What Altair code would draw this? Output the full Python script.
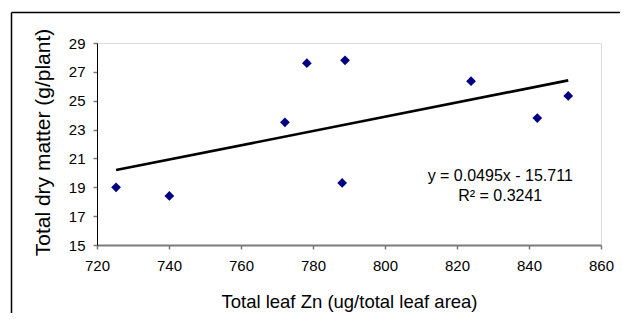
import altair as alt
import pandas as pd

# Data
leaf_zn = [725.3, 740.1, 772.2, 778.3, 788.9, 788.1, 823.9, 842.3, 850.9]
dry_matter = [19.0, 18.4, 23.5, 27.6, 27.8, 19.3, 26.35, 23.8, 25.33]

slope = 0.0495
intercept = -15.711
eq_lines = ["y = 0.0495x - 15.711", "R\u00b2 = 0.3241"]
ann_x = [832]
ann_y = [19.45]

x_ticks = [720, 740, 760, 780, 800, 820, 840, 860]
y_ticks = [15, 17, 19, 21, 23, 25, 27, 29]

FONT = "Liberation Sans"

pts = pd.DataFrame({"x": leaf_zn, "y": dry_matter})
line_df = pd.DataFrame({"x": [min(leaf_zn), max(leaf_zn)]})
ann_df = pd.DataFrame({"x": ann_x, "y": ann_y, "t": [eq_lines]})

xs = alt.Scale(domain=[720, 860], nice=False, zero=False)
ys = alt.Scale(domain=[15, 29], nice=False, zero=False)

x_axis = alt.Axis(
    values=x_ticks, title="Total leaf Zn (ug/total leaf area)", grid=False,
    domainColor="#7a7a7a", domainWidth=2, tickColor="#7a7a7a", tickWidth=1.5,
    tickSize=4, labelFont=FONT, labelFontSize=15, labelColor="black",
    labelPadding=9, labelOverlap=False, labelFlush=False,
    titleFont=FONT, titleFontSize=18.5,
    titleFontWeight="normal", titleColor="black", titleBaseline="alphabetic",
    titleY=62,
)
y_axis = alt.Axis(
    values=y_ticks, title="Total dry matter (g/plant)", grid=False,
    domainColor="black", domainWidth=1, tickColor="#7a7a7a", tickWidth=1.5,
    tickSize=4, labelFont=FONT, labelFontSize=15, labelColor="black",
    labelPadding=8, labelOverlap=False, labelFlush=False,
    titleFont=FONT, titleFontSize=21,
    titleFontWeight="normal", titleColor="black", titleAngle=270,
    titleBaseline="alphabetic", titleAlign="center", titleX=-48, titleY=99,
)

frame = pd.DataFrame({"a": [0]})
top_rule = alt.Chart(frame).mark_rule(
    color="black", strokeWidth=1.5, clip=False
).encode(x=alt.value(-85.5), x2=alt.value(540), y=alt.value(-30.5))
left_rule = alt.Chart(frame).mark_rule(
    color="black", strokeWidth=1.5, clip=False
).encode(x=alt.value(-85.5), y=alt.value(-30.5), y2=alt.value(300))

trend = alt.Chart(line_df).transform_calculate(
    y=f"{slope}*datum.x + ({intercept})"
).mark_line(color="black", strokeWidth=2.6).encode(
    x=alt.X("x:Q", scale=xs, axis=x_axis),
    y=alt.Y("y:Q", scale=ys, axis=y_axis),
)

points = alt.Chart(pts).mark_point(
    shape="diamond", filled=True, color="#000080", size=95, opacity=1
).encode(
    x=alt.X("x:Q", scale=xs, axis=x_axis),
    y=alt.Y("y:Q", scale=ys, axis=y_axis),
)

ann = alt.Chart(ann_df).mark_text(
    font=FONT, fontSize=16, color="black", align="center",
    baseline="alphabetic", lineHeight=20,
).encode(
    x=alt.X("x:Q", scale=xs, axis=x_axis),
    y=alt.Y("y:Q", scale=ys, axis=y_axis),
    text="t",
)

chart = alt.layer(trend, points, ann, top_rule, left_rule).properties(
    width=504, height=202,
    padding={"left": 89, "top": 35, "right": 19, "bottom": 68},
    autosize=alt.AutoSizeParams(type="none"),
).configure_view(stroke=None).configure_axis(
    labelOverlap=False
).configure(background="white")

chart.save("out.html", embed_options={"renderer": "svg", "actions": False})
